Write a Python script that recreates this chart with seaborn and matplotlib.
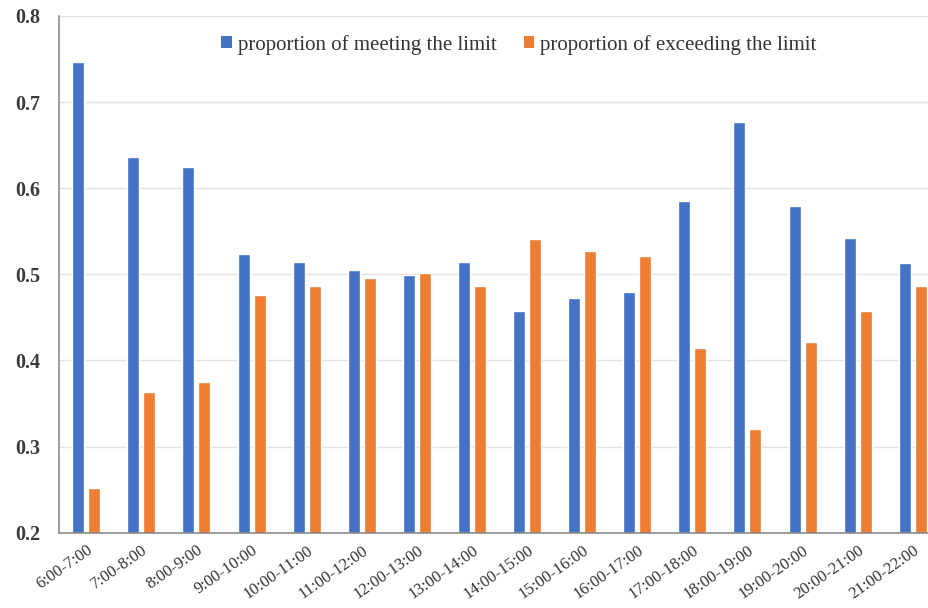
import matplotlib
matplotlib.use("Agg")
import matplotlib.pyplot as plt
from matplotlib.patches import Patch
import pandas as pd
import seaborn as sns

# Hourly time slots
periods = ["6:00-7:00", "7:00-8:00", "8:00-9:00", "9:00-10:00", "10:00-11:00",
           "11:00-12:00", "12:00-13:00", "13:00-14:00", "14:00-15:00", "15:00-16:00",
           "16:00-17:00", "17:00-18:00", "18:00-19:00", "19:00-20:00", "20:00-21:00",
           "21:00-22:00"]

meeting = [0.747, 0.636, 0.625, 0.524, 0.514, 0.505, 0.499, 0.514, 0.458, 0.473,
           0.479, 0.585, 0.677, 0.579, 0.542, 0.513]
exceeding = [0.252, 0.363, 0.375, 0.476, 0.486, 0.496, 0.501, 0.486, 0.541, 0.527,
             0.521, 0.414, 0.321, 0.421, 0.458, 0.487]

series_names = ["proportion of meeting the limit", "proportion of exceeding the limit"]
colors = ["#4472C4", "#ED7D31"]
y_ticks = [0.2, 0.3, 0.4, 0.5, 0.6, 0.7, 0.8]

df = pd.DataFrame({
    "period": periods * 2,
    "value": meeting + exceeding,
    "series": [series_names[0]] * len(periods) + [series_names[1]] * len(periods),
})

sns.set_theme(style="white")
plt.rcParams["font.family"] = ["Liberation Serif", "DejaVu Serif"]

fig = plt.figure(figsize=(9.29, 6.08), dpi=100)
ax = fig.add_axes([0.0632, 0.1238, 0.949, 0.850])

sns.barplot(data=df, x="period", y="value", hue="series", order=periods,
            hue_order=series_names, palette=colors, width=0.58, gap=0.25,
            saturation=1, legend=False, ax=ax)

ax.set_ylim(0.2, 0.8)
ax.set_yticks(y_ticks)
ax.set_yticklabels([f"{v:.1f}" for v in y_ticks], fontsize=14.5,
                   fontweight="bold", color="#3A3A3A")
ax.set_xlim(-0.5, len(periods) - 0.5)
ax.set_xlabel("")
ax.set_ylabel("")
ax.tick_params(axis="both", length=0)
ax.tick_params(axis="y", pad=13)
ax.tick_params(axis="x", pad=7)
for lbl in ax.get_xticklabels():
    lbl.set_rotation(35)
    lbl.set_ha("right")
    lbl.set_rotation_mode("anchor")
    lbl.set_fontsize(12)
    lbl.set_color("#333333")

ax.yaxis.grid(True, color="#E3E3E3", linewidth=1)
ax.set_axisbelow(True)
for side in ["top", "right"]:
    ax.spines[side].set_visible(False)
for side in ["left", "bottom"]:
    ax.spines[side].set_color("#8C8C8C")
    ax.spines[side].set_linewidth(1.2)

handles = [Patch(facecolor=c, edgecolor="none") for c in colors]
ax.legend(handles, series_names, loc="center", bbox_to_anchor=(0.522, 0.944),
          ncol=2, frameon=False, fontsize=15, labelcolor="#333333",
          handlelength=0.5, handleheight=0.5, handletextpad=0.3,
          columnspacing=1.3)

fig.savefig("out.png", dpi=100)
